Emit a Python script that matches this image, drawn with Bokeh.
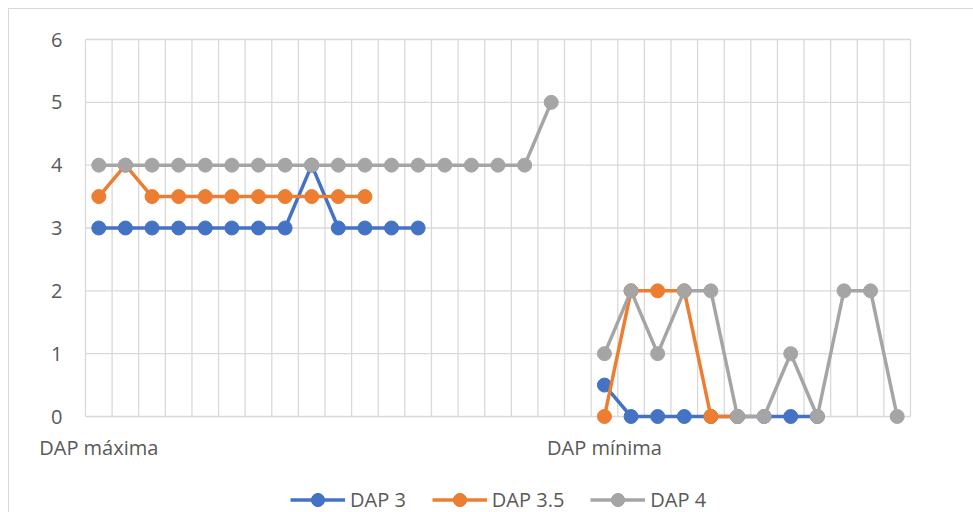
import numpy as np
from bokeh.plotting import figure
from bokeh.models import (Range1d, FixedTicker, Legend, LegendItem)
from bokeh.embed import file_html
from bokeh.resources import INLINE

nan = float("nan")

categories = ["DAP máxima"] + [""] * 18 + ["DAP mínima"] + [""] * 11

dap3 = [3, 3, 3, 3, 3, 3, 3, 3, 4, 3, 3, 3, 3,
        nan, nan, nan, nan, nan, nan,
        0.5, 0, 0, 0, 0, 0, 0, 0, 0,
        nan, nan, nan]
dap35 = [3.5, 4, 3.5, 3.5, 3.5, 3.5, 3.5, 3.5, 3.5, 3.5, 3.5,
         nan, nan, nan, nan, nan, nan, nan, nan,
         0, 2, 2, 2, 0, 0,
         nan, nan, nan, nan, nan, nan]
dap4 = [4, 4, 4, 4, 4, 4, 4, 4, 4, 4, 4, 4, 4, 4, 4, 4, 4, 5,
        nan,
        1, 2, 1, 2, 2, 0, 0, 1, 0, 2, 2, 0]

series_names = ["DAP 3", "DAP 3.5", "DAP 4"]
series_values = [dap3, dap35, dap4]
series_colors = ["#4472C4", "#ED7D31", "#A5A5A5"]
y_ticks = [0, 1, 2, 3, 4, 5, 6]

FONT = "Open Sans"
TXT = "#595959"
GRID = "#d9d9d9"

n = len(categories)
xs = np.arange(n)

W, H = 973, 512
PL, PR = 85, 910          # where the category band starts / ends (px)
Y0PX, Y6PX = 416, 39      # where 0 and 6 sit (px)
ppu = (Y0PX - Y6PX) / (max(y_ticks) - min(y_ticks))
ppc = (PR - PL) / n
x_lo = -0.5 - PL / ppc
x_hi = n - 0.5 + (W - PR) / ppc
y_hi = max(y_ticks) + Y6PX / ppu
y_lo = min(y_ticks) - (H - Y0PX) / ppu

p = figure(width=W, height=H, output_backend="svg", toolbar_location=None,
           x_range=Range1d(x_lo, x_hi), y_range=Range1d(y_lo, y_hi),
           min_border_left=0, min_border_right=0, min_border_top=0,
           min_border_bottom=0)
p.outline_line_color = None
p.background_fill_color = None
p.border_fill_color = None
p.styles = {
    "background": "linear-gradient(#d9d9d9,#d9d9d9) 8px 8px / 1px 100% no-repeat, "
                  "linear-gradient(#d9d9d9,#d9d9d9) 8px 8px / 100% 1px no-repeat, white"
}

p.ygrid.visible = False
p.xgrid.visible = False

# vertical and horizontal grid limited to the value range
bounds = np.arange(n + 1) - 0.5
p.segment(x0=bounds, y0=[min(y_ticks)] * len(bounds), x1=bounds,
          y1=[max(y_ticks)] * len(bounds), line_color=GRID, line_width=1.3)
p.segment(x0=[-0.5] * len(y_ticks), y0=y_ticks, x1=[n - 0.5] * len(y_ticks),
          y1=y_ticks, line_color=GRID, line_width=1.3)

# y axis, fixed at the left edge of the category band
p.yaxis.fixed_location = -0.5
p.yaxis.ticker = FixedTicker(ticks=y_ticks)
p.yaxis.axis_line_color = None
p.yaxis.major_tick_line_color = None
p.yaxis.minor_tick_line_color = None
p.yaxis.major_tick_out = 0
p.yaxis.minor_tick_out = 0
p.yaxis.major_label_standoff = 23
p.yaxis.major_label_text_font = FONT
p.yaxis.major_label_text_font_size = "20px"
p.yaxis.major_label_text_color = TXT

# x axis, fixed at the value 0
label_pos = [i for i, c in enumerate(categories) if c]
p.xaxis.fixed_location = 0
p.xaxis.ticker = FixedTicker(ticks=label_pos)
p.xaxis.major_label_overrides = {i: categories[i] for i in label_pos}
p.xaxis.axis_line_color = None
p.xaxis.major_tick_line_color = None
p.xaxis.minor_tick_line_color = None
p.xaxis.major_tick_out = 0
p.xaxis.minor_tick_out = 0
p.xaxis.major_label_standoff = 17
p.xaxis.major_label_text_font = FONT
p.xaxis.major_label_text_font_size = "20px"
p.xaxis.major_label_text_color = TXT

items = []
for name, vals, col in zip(series_names, series_values, series_colors):
    ys = np.array(vals, dtype=float)
    lr = p.line(xs, ys, line_color=col, line_width=3.5)
    sr = p.scatter(xs, ys, marker="circle", size=14, fill_color=col,
                   line_color=col)
    items.append(LegendItem(label=name, renderers=[lr, sr]))

legend = Legend(items=items, orientation="horizontal", location=(290, -4),
                glyph_width=55, glyph_height=33, label_standoff=5, spacing=26,
                padding=0, margin=0, border_line_color=None,
                background_fill_alpha=0,
                label_text_font=FONT, label_text_font_size="20px",
                label_text_color=TXT)
p.add_layout(legend)

open("out.html", "w").write(file_html(p, INLINE))
